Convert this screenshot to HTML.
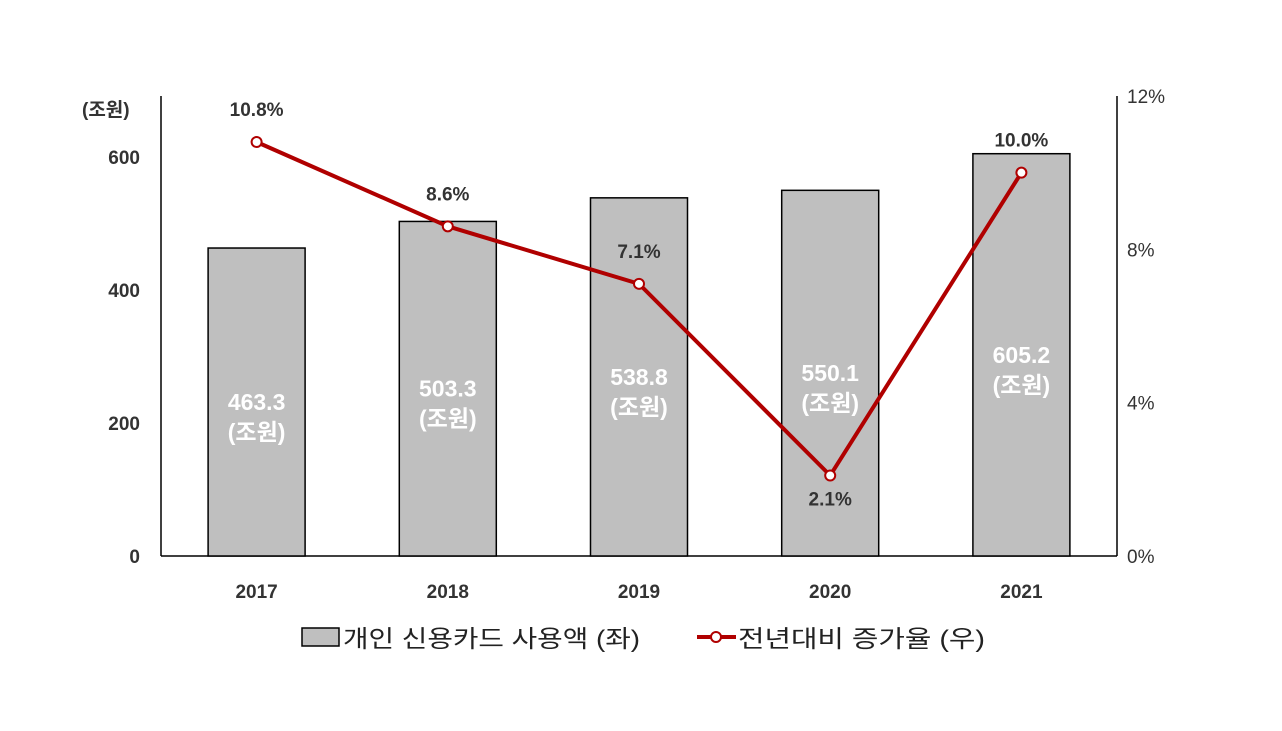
<!DOCTYPE html>
<html><head><meta charset="utf-8"><style>
body{margin:0;background:#fff;}
svg text{font-family:"Liberation Sans","Noto Sans CJK KR",sans-serif;}
</style></head><body>
<svg id="chart" width="1282" height="726" viewBox="0 0 1282 726" xmlns="http://www.w3.org/2000/svg">
<rect width="1282" height="726" fill="#fff"/>
<g id="g"></g>
</svg>
<script>
const years=["2017","2018","2019","2020","2021"];
const amounts=[463.3,503.3,538.8,550.1,605.2];
const growth=[10.8,8.6,7.1,2.1,10.0];
const leftTicks=[0,200,400,600];
const rightTicks=[0,4,8,12];

const NS="http://www.w3.org/2000/svg";
const g=document.getElementById('g');
const x0=161,x1=1117,yb=556,yt=96;
const yL=v=>yb-(v/692)*(yb-yt);
const yR=v=>yb-(v/12)*(yb-yt);
const step=(x1-x0)/years.length;
const xc=i=>x0+step*(i+0.5);
function el(t,a,txt){const e=document.createElementNS(NS,t);for(const k in a)e.setAttribute(k,a[k]);if(txt!=null)e.textContent=txt;g.appendChild(e);return e;}

let e=el('line',{x1:x0,y1:yt,x2:x0,y2:yb,stroke:'#000','stroke-width':1.5});

e=el('line',{x1:x1,y1:yt,x2:x1,y2:yb,stroke:'#000','stroke-width':1.5});

e=el('line',{x1:x0,y1:yb,x2:x1,y2:yb,stroke:'#000','stroke-width':1.5});

leftTicks.forEach(v=>{
 const t=el('text',{x:140,y:yL(v)+7,'text-anchor':'end','font-size':19,'font-weight':'bold',fill:'#333'},v);
 
});
rightTicks.forEach(v=>{
 const t=el('text',{x:1127,y:yR(v)+7,'font-size':19,fill:'#333'},v+'%');
 
});
e=el('text',{x:82,y:116,'font-size':19,'font-weight':'bold',fill:'#333'},'(조원)');


amounts.forEach((v,i)=>{
 const b=el('rect',{x:xc(i)-48.5,y:yL(v),width:97,height:yb-yL(v),fill:'#bfbfbf',stroke:'#000','stroke-width':1.5});
 
 const m=(yL(v)+yb)/2;
 const t1=el('text',{x:xc(i),y:m+8,'text-anchor':'middle','font-size':23,'font-weight':'bold',fill:'#fff'},v.toFixed(1));
 
 const t2=el('text',{x:xc(i),y:m+38,'text-anchor':'middle','font-size':23,'font-weight':'bold',fill:'#fff'},'(조원)');
 
 const xl=el('text',{x:xc(i),y:598,'text-anchor':'middle','font-size':19,'font-weight':'bold',fill:'#333'},years[i]);
 
});

const pts=growth.map((v,i)=>xc(i)+','+yR(v)).join(' ');
e=el('polyline',{points:pts,fill:'none',stroke:'#b00000','stroke-width':4});

growth.forEach((v,i)=>{
 const c=el('circle',{cx:xc(i),cy:yR(v),r:5,fill:'#fff',stroke:'#b00000','stroke-width':2});
 
 const below=(i>0&&i<growth.length-1&&v<growth[i-1]&&v<growth[i+1]);
 const t=el('text',{x:xc(i),y:below?yR(v)+30:yR(v)-26,'text-anchor':'middle','font-size':19,'font-weight':'bold',fill:'#333'},v.toFixed(1)+'%');
 
});

e=el('rect',{x:302,y:628,width:37,height:18,fill:'#bfbfbf',stroke:'#000','stroke-width':1.5});

e=el('text',{x:343,y:647,'font-size':24,fill:'#222',textLength:297,lengthAdjust:'spacingAndGlyphs'},'개인 신용카드 사용액 (좌)');

e=el('line',{x1:697,y1:637,x2:736,y2:637,stroke:'#b00000','stroke-width':4});

e=el('circle',{cx:716,cy:637,r:5,fill:'#fff',stroke:'#b00000','stroke-width':2});

e=el('text',{x:738,y:647,'font-size':24,fill:'#222',textLength:247,lengthAdjust:'spacingAndGlyphs'},'전년대비 증가율 (우)');

</script>
</body></html>
